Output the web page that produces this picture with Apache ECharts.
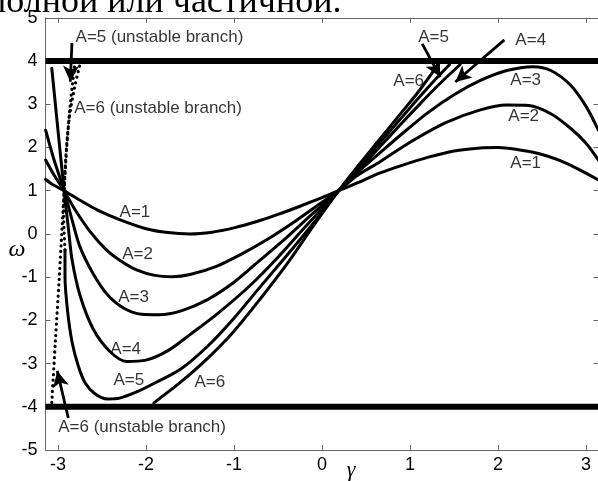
<!DOCTYPE html>
<html>
<head>
<meta charset="utf-8">
<script src="https://cdn.jsdelivr.net/npm/echarts@6/dist/echarts.min.js"></script>
<style>
  html, body { margin: 0; padding: 0; background: #fff; }
  #chart { width: 598px; height: 481px; }
</style>
</head>
<body>
<div id="chart"></div>
<script>
// Tick positions
const gammaTicks = [-3, -2, -1, 0, 1, 2, 3];

// Curves omega(gamma) for each amplitude A, as [gamma, omega] pairs
const curveA1 = [[-3.14,1.26],[-3.05,1.13],[-2.93,1.0],[-2.75,0.78],[-2.55,0.55],[-2.3,0.33],[-2.0,0.12],[-1.75,0.03],[-1.5,0.0],[-1.25,0.04],[-1.0,0.14],[-0.75,0.28],[-0.5,0.45],[-0.25,0.64],[0.0,0.84],[0.19,1.0],[0.4,1.18],[0.66,1.41],[0.9,1.58],[1.2,1.77],[1.5,1.92],[1.8,1.99],[2.0,2.0],[2.2,1.96],[2.48,1.85],[2.7,1.7],[2.9,1.51],[3.14,1.25]];
const curveA2 = [[-3.14,1.71],[-3.05,1.38],[-2.93,1.0],[-2.8,0.54],[-2.63,0.04],[-2.45,-0.37],[-2.29,-0.62],[-2.1,-0.84],[-1.9,-0.96],[-1.7,-0.99],[-1.5,-0.94],[-1.2,-0.75],[-0.9,-0.45],[-0.6,-0.1],[-0.3,0.3],[0.0,0.73],[0.19,1.0],[0.4,1.35],[0.66,1.67],[1.0,2.12],[1.4,2.57],[1.8,2.87],[2.1,2.98],[2.35,2.97],[2.6,2.78],[2.82,2.45],[3.0,2.1],[3.14,1.71]];
const curveA3 = [[-3.14,2.4],[-3.05,1.75],[-2.93,1.0],[-2.85,0.4],[-2.75,-0.3],[-2.6,-0.92],[-2.44,-1.4],[-2.25,-1.72],[-2.05,-1.86],[-1.85,-1.87],[-1.6,-1.78],[-1.3,-1.52],[-1.0,-1.12],[-0.7,-0.6],[-0.4,-0.08],[-0.1,0.48],[0.19,1.0],[0.4,1.42],[0.66,1.88],[0.9,2.3],[1.2,2.8],[1.5,3.22],[1.8,3.55],[2.1,3.78],[2.4,3.87],[2.6,3.78],[2.82,3.45],[3.0,2.95],[3.14,2.4]];
const curveA4 = [[-3.07,3.83],[-3.0,2.4],[-2.93,1.0],[-2.88,0.1],[-2.84,-0.6],[-2.75,-1.42],[-2.6,-2.2],[-2.41,-2.72],[-2.22,-2.95],[-2.0,-2.92],[-1.75,-2.7],[-1.5,-2.33],[-1.19,-1.85],[-0.82,-1.2],[-0.5,-0.54],[-0.2,0.14],[0.19,1.0],[0.4,1.45],[0.66,2.02],[0.9,2.55],[1.1,2.98],[1.3,3.4],[1.57,3.92]];
const curveA5 = [[-2.92,-0.37],[-2.92,-1.0],[-2.89,-1.8],[-2.84,-2.5],[-2.77,-3.05],[-2.69,-3.45],[-2.58,-3.7],[-2.44,-3.82],[-2.3,-3.8],[-2.1,-3.65],[-1.9,-3.45],[-1.6,-3.12],[-1.3,-2.6],[-1.0,-1.95],[-0.7,-1.22],[-0.4,-0.5],[-0.1,0.24],[0.19,1.0],[0.4,1.5],[0.66,2.12],[0.9,2.68],[1.1,3.15],[1.3,3.6],[1.45,3.92]];
const curveA6 = [[-1.91,-3.91],[-1.6,-3.42],[-1.3,-2.88],[-1.0,-2.25],[-0.7,-1.5],[-0.4,-0.7],[-0.1,0.18],[0.19,1.0],[0.4,1.55],[0.66,2.2],[0.9,2.8],[1.1,3.3],[1.32,3.92]];

// Unstable branches (dotted)
const unstableA5 = [[-2.92,-0.37],[-2.935,0.4],[-2.93,1.0],[-2.91,1.8],[-2.87,2.7],[-2.81,3.4],[-2.75,3.92]];
const unstableA6 = [[-3.07,-3.9],[-3.03,-2.5],[-2.985,-1.0],[-2.955,0.1],[-2.93,1.0],[-2.9,2.0],[-2.86,3.0],[-2.81,3.9]];

// Frequency bounds
const upperBound = [[-Math.PI,4],[Math.PI,4]];
const lowerBound = [[-Math.PI,-4],[Math.PI,-4]];

// Text annotations: [gamma, omega, text] (text starts at the point)
const curveLabels = [
  [-2.30, 0.51, 'A=1'], [-2.27, -0.47, 'A=2'], [-2.315, -1.46, 'A=3'],
  [-2.405, -2.66, 'A=4'], [-2.37, -3.38, 'A=5'], [-1.45, -3.43, 'A=6'],
  [2.14, 1.64, 'A=1'], [2.117, 2.71, 'A=2'], [2.14, 3.56, 'A=3'],
  [0.81, 3.52, 'A=6'], [1.094, 4.55, 'A=5'], [2.197, 4.49, 'A=4'],
  [-2.80, 4.55, 'A=5 (unstable branch)'],
  [-2.815, 2.91, 'A=6 (unstable branch)'],
  [-2.997, -4.47, 'A=6 (unstable branch)']
];

// Arrows: [from, to]
const arrows = [
  [[-2.841, 4.418], [-2.86, 3.52]],
  [[-2.883, -4.26], [-3.008, -3.17]],
  [[1.139, 4.396], [1.344, 3.63]],
  [[2.072, 4.489], [1.515, 3.516]]
];

const chart = echarts.init(document.getElementById('chart'), null, { renderer: 'canvas' });

const frameColor = '#666';
const labelFont = { color: '#000', fontFamily: 'Liberation Sans, Arial, sans-serif', fontSize: 18 };

function solid(data, w) {
  return {
    type: 'line', data: data, showSymbol: false, symbol: 'none', smooth: 0.3,
    lineStyle: { color: '#000', width: w || 3, cap: 'round', join: 'round' },
    silent: true, z: 3
  };
}
function dotted(data) {
  return {
    type: 'line', data: data, showSymbol: false, symbol: 'none', smooth: 0.3,
    lineStyle: { color: '#000', width: 3.2, type: [0.1, 5.5], cap: 'round' },
    silent: true, z: 3
  };
}
function bound(data) {
  return {
    type: 'line', data: data, showSymbol: false, symbol: 'none',
    lineStyle: { color: '#000', width: 6, cap: 'butt' },
    silent: true, z: 4
  };
}
function frameAxis(pos, extra) {
  return Object.assign({
    type: 'value', position: pos,
    axisLine: { show: true, onZero: false, lineStyle: { color: frameColor, width: 1 } },
    axisTick: { show: true, inside: true, length: 5, lineStyle: { color: frameColor } },
    axisLabel: { show: false },
    splitLine: { show: false }
  }, extra);
}

const series = [
  solid(curveA1), solid(curveA2), solid(curveA3),
  solid(curveA4), solid(curveA5), solid(curveA6),
  dotted(unstableA5), dotted(unstableA6),
  bound(upperBound), bound(lowerBound),
  {
    type: 'scatter', data: curveLabels, symbolSize: 1,
    itemStyle: { color: 'rgba(0,0,0,0)' }, silent: true, z: 6,
    label: {
      show: true, position: 'inside', align: 'left', verticalAlign: 'middle',
      formatter: p => p.value[2],
      color: '#000', fontFamily: 'Liberation Sans, Arial, sans-serif', fontSize: 17
    }
  },
  {
    type: 'line', data: [], silent: true, z: 5,
    markLine: {
      silent: true, animation: false,
      symbol: ['none', 'arrow'], symbolSize: [12, 16],
      label: { show: false },
      lineStyle: { color: '#000', width: 2.8, type: 'solid' },
      emphasis: { disabled: true },
      data: arrows.map(a => [{ coord: a[0] }, { coord: a[1] }])
    }
  }
];

const xTicks = { show: true, inside: true, length: 5, customValues: gammaTicks, lineStyle: { color: frameColor } };

chart.setOption({
  animation: false,
  backgroundColor: '#fff',
  grid: { left: 45.5, right: -0.5, top: 17.8, bottom: 31, containLabel: false, outerBoundsMode: 'none' },
  xAxis: [
    frameAxis('bottom', {
      min: -Math.PI, max: Math.PI, axisTick: xTicks,
      axisLabel: Object.assign({ show: true, margin: 6, customValues: gammaTicks }, labelFont)
    }),
    frameAxis('top', { min: -Math.PI, max: Math.PI, axisTick: xTicks })
  ],
  yAxis: [
    frameAxis('left', {
      min: -5, max: 5, interval: 1,
      axisLabel: Object.assign({ show: true, margin: 8 }, labelFont)
    }),
    frameAxis('right', { min: -5, max: 5, interval: 1 })
  ],
  graphic: [
    {
      type: 'text', x: -13, y: 3, silent: true,
      style: { text: 'полной или частичной.', font: '36px "Liberation Serif", "DejaVu Serif", serif', fill: '#000', textAlign: 'left', textVerticalAlign: 'middle' }
    },
    {
      type: 'text', x: 17, y: 250, silent: true,
      style: { text: 'ω', font: 'italic 24px "Liberation Serif", serif', fill: '#000', textAlign: 'center', textVerticalAlign: 'middle' }
    },
    {
      type: 'text', x: 351, y: 470, silent: true,
      style: { text: 'γ', font: 'italic 22px "Liberation Serif", serif', fill: '#000', textAlign: 'center', textVerticalAlign: 'middle' }
    }
  ],
  series: series
});
</script>
</body>
</html>
